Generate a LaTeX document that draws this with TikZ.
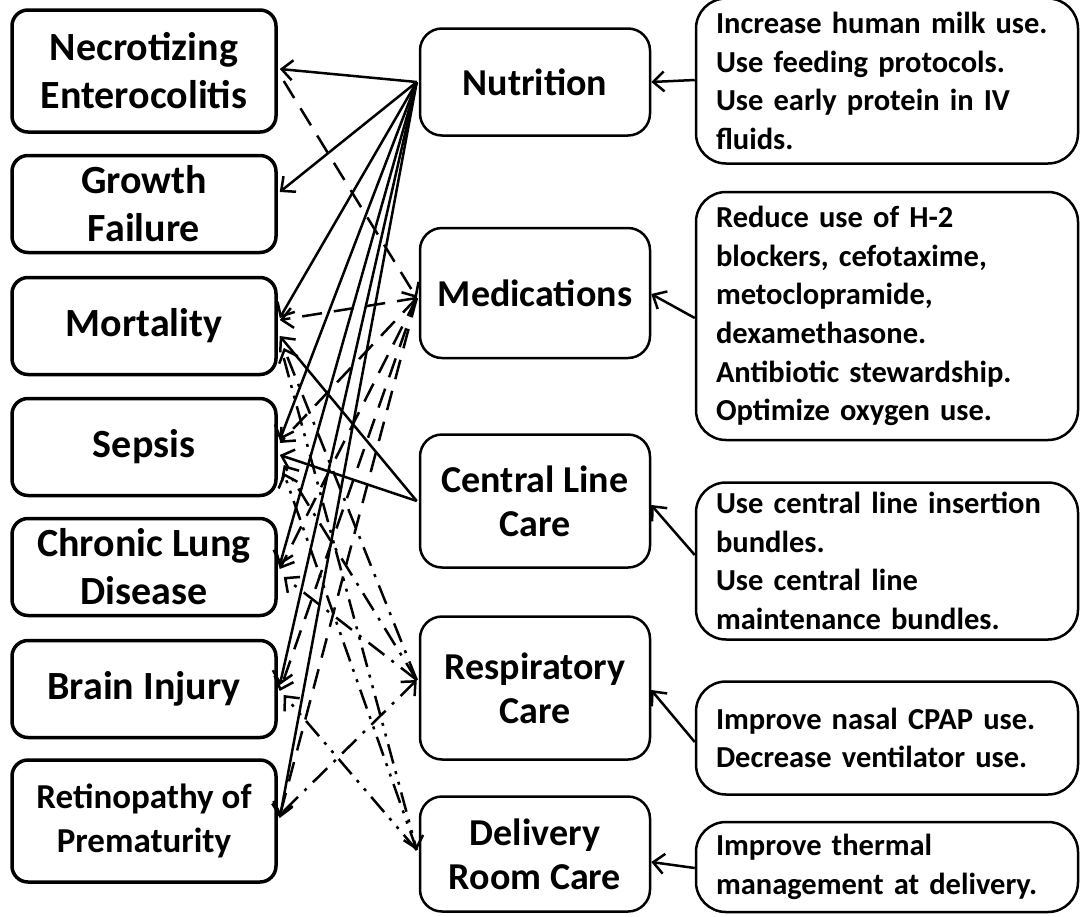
\documentclass[tikz,border=0pt]{standalone}
\usepackage{fontspec}
\setmainfont{Carlito}
\usetikzlibrary{arrows.meta,calc}
\tikzset{
  outbox/.style={draw, line width=3.5pt, rounded corners=16pt, minimum width=264pt, align=center, font=\fontsize{40}{48}\selectfont\bfseries, inner sep=0pt},
  midbox/.style={draw, line width=2.5pt, rounded corners=22pt, minimum width=230pt, align=center, font=\fontsize{38}{44}\selectfont\bfseries, inner sep=0pt},
  notebox/.style={draw, line width=2.5pt, rounded corners=30pt, minimum width=381pt, text width=342pt, align=left, font=\fontsize{30.5}{38.7}\selectfont\bfseries, inner sep=0pt, inner xsep=20pt},
  conn/.style={line width=2.5pt, -{Straight Barb[length=11pt,width=20pt,line width=2.5pt]}},
  solidc/.style={conn},
  dashc/.style={conn, dash pattern=on 20pt off 12pt},
  dotdashc/.style={conn, dash pattern=on 20pt off 9pt on 3pt off 9pt},
  dddc/.style={conn, dash pattern=on 20pt off 8pt on 3pt off 8pt on 3pt off 8pt},
}
\begin{document}
\begin{tikzpicture}[x=1pt,y=-1pt]
\useasboundingbox (0,0) rectangle (1081,916);
% outcomes
\node[outbox, minimum height=122pt] (nec) at (144,71) {Necrotizing\\Enterocolitis};
\node[outbox, minimum height=97pt] (gf) at (144,204) {Growth\\Failure};
\node[outbox, minimum height=97pt] (mort) at (144,326) {Mortality};
\node[outbox, minimum height=97pt] (sep) at (144,447) {Sepsis};
\node[outbox, minimum height=97pt] (cld) at (144,567) {Chronic Lung\\Disease};
\node[outbox, minimum height=97pt] (bi) at (144,689) {Brain Injury};
\node[outbox, minimum height=122pt, font=\fontsize{35}{44}\selectfont\bfseries] (rop) at (144,821) {Retinopathy of\\Prematurity};
% interventions
\node[midbox, minimum height=107pt] (nut) at (535,82) {Nutrition};
\node[midbox, minimum height=130pt] (med) at (535,293) {Medications};
\node[midbox, minimum height=133pt] (clc) at (535,501) {Central Line\\Care};
\node[midbox, minimum height=143pt] (resp) at (535,688) {Respiratory\\Care};
\node[midbox, minimum height=115pt] (del) at (535,854) {Delivery\\Room Care};
% notes
\node[notebox, minimum height=165pt] (r1) at (887,81) {Increase human milk use.\\Use feeding protocols.\\Use early protein in IV\\fluids.};
\node[notebox, minimum height=248pt] (r2) at (887,316) {Reduce use of H-2\\blockers, cefotaxime,\\metoclopramide,\\dexamethasone.\\Antibiotic stewardship.\\Optimize oxygen use.};
\node[notebox, minimum height=157pt] (r3) at (887,561) {Use central line insertion\\bundles.\\Use central line\\maintenance bundles.};
\node[notebox, minimum height=113pt] (r4) at (887,738) {Improve nasal CPAP use.\\Decrease ventilator use.};
\node[notebox, minimum height=90pt] (r5) at (887,867) {Improve thermal\\management at delivery.};
% note arrows
\draw[solidc] ($(r1.west)+(0,-1)$) -- ($(nut.east)+(0,0)$);
\draw[solidc] ($(r2.west)+(0,2)$) -- ($(med.east)+(0,1)$);
\draw[solidc] ($(r3.west)+(0,-6)$) -- ($(clc.east)+(0,4)$);
\draw[solidc] ($(r4.west)+(0,4)$) -- ($(resp.east)+(0,2)$);
\draw[solidc] ($(r5.west)+(0,1)$) -- ($(del.east)+(0,8)$);
% anchor points
\coordinate (n0) at ($(nut.west)+(-2,0)$);
\coordinate (m0) at ($(med.west)+(-2,5)$);
\coordinate (c0) at ($(clc.west)+(-2,0)$);
\coordinate (p0) at ($(resp.west)+(-2,-8)$);
\coordinate (d0) at ($(del.west)+(-2,-4)$);
% nutrition
\draw[solidc] (n0) -- ($(nec.east)+(2,-2)$);
\draw[solidc] (n0) -- ($(gf.east)+(2,-12)$);
\draw[solidc] (n0) -- ($(mort.east)+(2,-8)$);
\draw[solidc] (n0) -- ($(sep.east)+(2,-7)$);
\draw[solidc] (n0) -- ($(cld.east)+(2,-2)$);
\draw[solidc] (n0) -- ($(bi.east)+(2,-4)$);
\draw[solidc] (n0) -- ($(rop.east)+(2,-3)$);
% central line
\draw[solidc] (c0) -- ($(mort.east)+(2,10)$);
\draw[solidc] (c0) -- ($(sep.east)+(2,8)$);
% medications
\draw[dashc] ($(nec.east)+(6,10)$) -- (m0);
\draw[dashc] (m0) -- ($(mort.east)+(2,-6)$);
\draw[dashc] (m0) -- ($(sep.east)+(2,-4)$);
\draw[dashc] (m0) -- ($(cld.east)+(2,2)$);
\draw[dashc] (m0) -- ($(bi.east)+(2,2)$);
\draw[dashc] (m0) -- ($(rop.east)+(2,-5)$);
% respiratory
\draw[dotdashc] (p0) -- ($(mort.east)+(6,22)$);
\draw[dotdashc] (p0) -- ($(sep.east)+(6,18)$);
\draw[dotdashc] (p0) -- ($(cld.east)+(6,10)$);
\draw[dotdashc] ($(rop.east)+(6,-10)$) -- (p0);
% delivery room
\draw[dddc] ($(mort.east)+(6,32)$) -- (d0);
\draw[dddc] (d0) -- ($(sep.east)+(6,26)$);
\draw[dddc] (d0) -- ($(bi.east)+(6,6)$);
\end{tikzpicture}
\end{document}
